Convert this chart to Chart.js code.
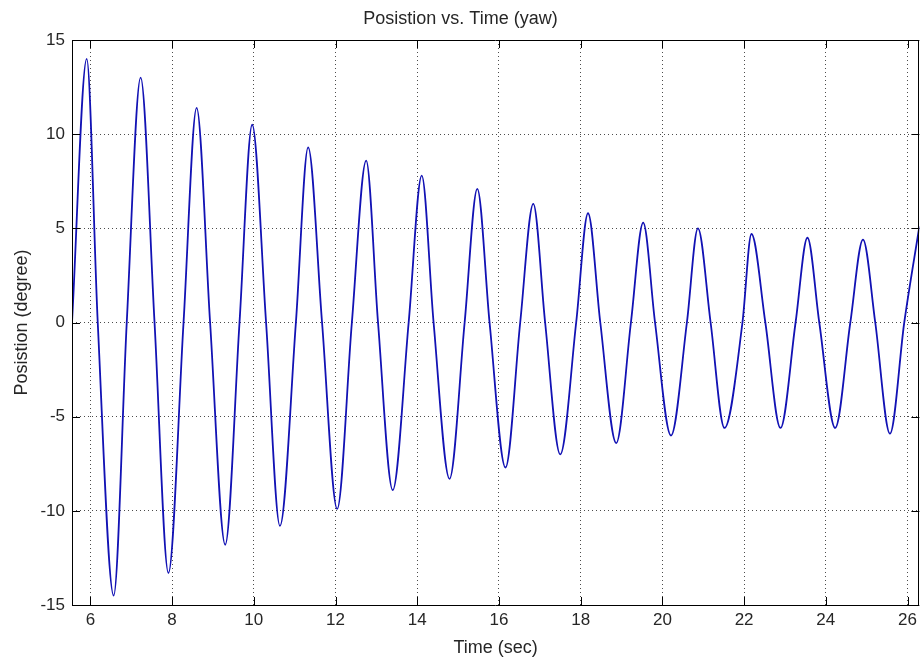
<!DOCTYPE html>
<html>
<head>
<meta charset="utf-8">
<title>Posistion vs. Time (yaw)</title>
<script src="https://cdn.jsdelivr.net/npm/chart.js@4/dist/chart.umd.min.js"></script>
<style>
	html, body { margin: 0; padding: 0; background: #fff; }
	#wrap { width: 922px; height: 662px; }
</style>
</head>
<body>
<div id="wrap"><canvas id="myChart" width="922" height="662"></canvas></div>
<script>
// values: extremes and zero crossings of the yaw trace
var timeSec = [5.55, 5.91, 6.18, 6.57, 6.89, 7.23, 7.57, 7.91, 8.28, 8.60, 8.93, 9.30, 9.65, 9.96, 10.30, 10.64, 11.03, 11.33, 11.67, 12.04, 12.40, 12.75, 13.04, 13.40, 13.79, 14.11, 14.40, 14.79, 15.16, 15.47, 15.77, 16.16, 16.52, 16.84, 17.13, 17.50, 17.89, 18.18, 18.48, 18.87, 19.23, 19.53, 19.82, 20.21, 20.60, 20.87, 21.18, 21.52, 21.96, 22.18, 22.52, 22.89, 23.26, 23.55, 23.84, 24.23, 24.60, 24.91, 25.21, 25.57, 25.92, 26.29]
var positionDeg = [0, 14.0, 0, -14.5, 0, 13.0, 0, -13.3, 0, 11.4, 0, -11.8, 0, 10.5, 0, -10.8, 0, 9.3, 0, -9.9, 0, 8.6, 0, -8.9, 0, 7.8, 0, -8.3, 0, 7.1, 0, -7.7, 0, 6.3, 0, -7.0, 0, 5.8, 0, -6.4, 0, 5.3, 0, -6.0, 0, 5.0, 0, -5.6, 0, 4.7, 0, -5.6, 0, 4.5, 0, -5.6, 0, 4.4, 0, -5.9, 0, 5.1]

var xTicks = [6, 8, 10, 12, 14, 16, 18, 20, 22, 24, 26]
var yTicks = [-15, -10, -5, 0, 5, 10, 15]
var xRange = [5.55, 26.29]
var yRange = [-15, 15]

var fontFamily = '"Liberation Sans", Arial, Helvetica, sans-serif'
var textColor = '#262626'
var gridColor = 'rgba(0, 0, 0, 0.7)'
var lineColor = '#1212b4'

var points = timeSec.map(function(t, i) {
	return { x: t, y: positionDeg[i] }
})

// matlab style box with ticks pointing inwards
var axesBox = {
	id: 'axesBox',
	afterDraw: function(chart) {
		var c = chart.ctx
		var a = chart.chartArea
		var xs = chart.scales.x
		var ys = chart.scales.y
		var len = 8
		c.save()
		c.strokeStyle = '#000'
		c.lineWidth = 1
		c.beginPath()
		c.rect(Math.round(a.left) + 0.5, Math.round(a.top) + 0.5, Math.round(a.right - a.left) - 1, Math.round(a.bottom - a.top))
		xTicks.forEach(function(v) {
			var px = Math.round(xs.getPixelForValue(v)) + 0.5
			c.moveTo(px, a.bottom)
			c.lineTo(px, a.bottom - len)
			c.moveTo(px, a.top)
			c.lineTo(px, a.top + len)
		})
		yTicks.forEach(function(v) {
			var py = Math.round(ys.getPixelForValue(v)) + 0.5
			c.moveTo(a.left, py)
			c.lineTo(a.left + len, py)
			c.moveTo(a.right, py)
			c.lineTo(a.right - len, py)
		})
		c.stroke()
		c.restore()
	}
}

var ctx = document.getElementById('myChart')
var lineChart = new Chart(ctx, {
	type: 'line',
	data: {
		datasets: [{
			label: 'yaw',
			data: points,
			borderColor: lineColor,
			borderWidth: 1.8,
			pointRadius: 0,
			fill: false,
			cubicInterpolationMode: 'monotone',
		}]
	},
	options: {
		responsive: false,
		animation: false,
		devicePixelRatio: 1,
		layout: { padding: { left: 0, right: 1, top: 0, bottom: 0 } },
		plugins: {
			legend: { display: false },
			tooltip: { enabled: false },
			title: {
				display: true,
				text: 'Posistion vs. Time (yaw)',
				color: textColor,
				font: { family: fontFamily, size: 18, weight: 'normal' },
				padding: { top: 8, bottom: 10.4 },
			},
		},
		scales: {
			x: {
				type: 'linear',
				min: xRange[0],
				max: xRange[1],
				afterBuildTicks: function(s) {
					s.ticks = xTicks.map(function(v) { return { value: v } })
				},
				afterFit: function(s) { s.height = 57 },
				grid: { color: gridColor, lineWidth: 1, drawTicks: false, borderDash: [1, 3] },
				border: { display: false, dash: [1, 3] },
				ticks: {
					color: textColor,
					padding: 5,
					maxRotation: 0,
					font: { family: fontFamily, size: 17 },
				},
				title: {
					display: true,
					text: 'Time (sec)',
					color: textColor,
					font: { family: fontFamily, size: 18 },
					padding: { top: 0, bottom: 3 },
				},
			},
			y: {
				type: 'linear',
				min: yRange[0],
				max: yRange[1],
				afterBuildTicks: function(s) {
					s.ticks = yTicks.map(function(v) { return { value: v } })
				},
				afterFit: function(s) { s.width = 72 },
				grid: { color: gridColor, lineWidth: 1, drawTicks: false, borderDash: [1, 3] },
				border: { display: false, dash: [1, 3] },
				ticks: {
					color: textColor,
					padding: 7,
					font: { family: fontFamily, size: 17 },
				},
				title: {
					display: true,
					text: 'Posistion (degree)',
					color: textColor,
					font: { family: fontFamily, size: 18 },
					padding: { top: 11, bottom: 0 },
				},
			},
		},
	},
	plugins: [axesBox],
})
</script>
</body>
</html>
